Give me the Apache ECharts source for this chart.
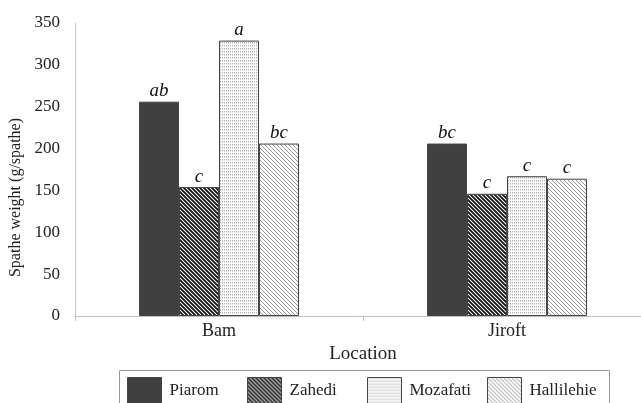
<!DOCTYPE html>
<html><head><meta charset="utf-8">
<script src="https://cdn.jsdelivr.net/npm/echarts@6/dist/echarts.min.js"></script>
<style>html,body{margin:0;padding:0;background:#fff}#c{width:641px;height:403px}</style>
</head><body><div id="c"></div>
<script>
const categories = ['Bam', 'Jiroft'];
const seriesNames = ['Piarom', 'Zahedi', 'Mozafati', 'Hallilehie'];
const piarom = [256, 206];
const zahedi = [154, 146];
const mozafati = [329, 167];
const hallilehie = [206, 164];
const piaromLetters = ['ab', 'bc'];
const zahediLetters = ['c', 'c'];
const mozafatiLetters = ['a', 'c'];
const hallilehieLetters = ['bc', 'c'];
const yTicks = [0, 50, 100, 150, 200, 250, 300, 350];

function makeCanvas(w, h, draw) {
  const c = document.createElement('canvas');
  c.width = w; c.height = h;
  const ctx = c.getContext('2d');
  ctx.fillStyle = '#fff'; ctx.fillRect(0, 0, w, h);
  draw(ctx, w, h);
  return { image: c, repeat: 'repeat' };
}
function diag(color, lw, p) {
  return makeCanvas(p, p, (ctx, w, h) => {
    ctx.strokeStyle = color; ctx.lineWidth = lw;
    ctx.beginPath();
    ctx.moveTo(-1, -1); ctx.lineTo(w + 1, h + 1);
    ctx.moveTo(-1 - w, -1); ctx.lineTo(1, h + 1);
    ctx.moveTo(w - 1, -1); ctx.lineTo(2 * w + 1, h + 1);
    ctx.stroke();
  });
}
const fills = [
  '#404040',
  diag('#111', 1.8, 4),
  makeCanvas(2, 3, (ctx) => { ctx.fillStyle = '#b0b0b0'; ctx.fillRect(0, 0, 1, 1); ctx.fillStyle='#d8d8d8'; ctx.fillRect(0,1,1,1); }),
  diag('#8a8a8a', 0.9, 4)
];
const values = [piarom, zahedi, mozafati, hallilehie];
const letters = [piaromLetters, zahediLetters, mozafatiLetters, hallilehieLetters];

const serif = '"Liberation Serif", "DejaVu Serif", serif';
const legendLeft = [127, 247, 367, 487];
const legends = seriesNames.map((n, i) => ({
  data: [n], icon: 'rect', top: 377, left: legendLeft[i], padding: 0,
  itemWidth: 34, itemHeight: 26,
  textStyle: { fontFamily: serif, fontSize: 17, color: '#222', padding: [0, 0, 0, 3] },
  itemStyle: { borderColor: '#444', borderWidth: 1 }
}));

const chart = echarts.init(document.getElementById('c'));
chart.setOption({
  animation: false,
  grid: { left: 75, top: 23, right: -10, bottom: 87, outerBoundsMode: 'none', containLabel: false },
  legend: legends,
  graphic: [{
    type: 'rect', left: 117, top: 368, silent: true,
    shape: { width: 490, height: 45 },
    style: { fill: 'none', stroke: '#999', lineWidth: 1 }
  }],
  xAxis: {
    type: 'category', data: categories,
    name: 'Location', nameLocation: 'middle', nameGap: 23,
    nameTextStyle: { fontFamily: serif, fontSize: 19, color: '#222' },
    axisLine: { lineStyle: { color: '#c0c0c0' } },
    axisTick: { show: true, length: 5, lineStyle: { color: '#c0c0c0' } },
    axisLabel: { fontFamily: serif, fontSize: 18, color: '#222', margin: 6 }
  },
  yAxis: {
    type: 'value', min: 0, max: 350, interval: 50,
    name: 'Spathe weight (g/spathe)', nameLocation: 'middle', nameGap: 45,
    nameTextStyle: { fontFamily: serif, fontSize: 16, color: '#222', padding: [0, 56, 0, 0] },
    axisLine: { show: true, lineStyle: { color: '#c8c8c8' } },
    axisTick: { show: false },
    splitLine: { show: false },
    axisLabel: { fontFamily: serif, fontSize: 17, color: '#222', margin: 15,
      formatter: v => yTicks.includes(v) ? String(v) : '' }
  },
  series: seriesNames.map((n, i) => ({
    name: n, type: 'bar', data: values[i],
    barWidth: 40, barGap: '0%',
    itemStyle: { color: fills[i], borderColor: '#444', borderWidth: 1 },
    label: { show: true, position: 'top', distance: 1,
      formatter: p => letters[i][p.dataIndex],
      fontFamily: serif, fontStyle: 'italic', fontSize: 19, color: '#111' }
  }))
});
</script></body></html>
